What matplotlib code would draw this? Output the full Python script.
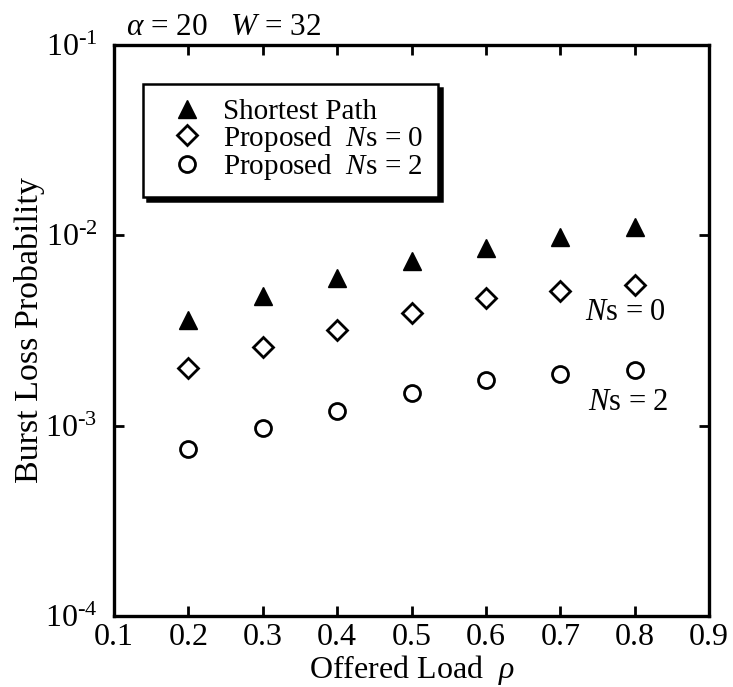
import matplotlib
matplotlib.use("Agg")
import matplotlib.pyplot as plt
from matplotlib.lines import Line2D
from matplotlib.ticker import FixedLocator, FixedFormatter, NullLocator

plt.rcParams.update({
    "font.family": "Liberation Serif",
    "mathtext.fontset": "custom",
    "mathtext.rm": "Liberation Serif",
    "mathtext.it": "Liberation Serif:italic",
    "mathtext.bf": "Liberation Serif:bold",
})

# Offered load values and burst loss probabilities
load = [0.2, 0.3, 0.4, 0.5, 0.6, 0.7, 0.8]
shortest_path = [3.6e-3, 4.8e-3, 6.0e-3, 7.3e-3, 8.6e-3, 9.8e-3, 1.10e-2]
proposed_ns0 = [2.01e-3, 2.59e-3, 3.18e-3, 3.9e-3, 4.68e-3, 5.08e-3, 5.47e-3]
proposed_ns2 = [7.5e-4, 9.7e-4, 1.19e-3, 1.48e-3, 1.74e-3, 1.87e-3, 1.96e-3]

x_ticks = [0.1, 0.2, 0.3, 0.4, 0.5, 0.6, 0.7, 0.8, 0.9]
x_tick_labels = ["0.1", "0.2", "0.3", "0.4", "0.5", "0.6", "0.7", "0.8", "0.9"]
y_ticks = [1e-4, 1e-3, 1e-2, 1e-1]
y_tick_labels = [r"$10^{\text{-4}}$", r"$10^{\text{-3}}$",
                 r"$10^{\text{-2}}$", r"$10^{\text{-1}}$"]

FS = 23
LEG_FS = 21

tri_style = dict(linestyle="none", marker="^", markersize=13,
                 markerfacecolor="black", markeredgecolor="black",
                 markeredgewidth=1.0)
dia_style = dict(linestyle="none", marker="D", markersize=10.5,
                 markerfacecolor="white", markeredgecolor="black",
                 markeredgewidth=2.0)
cir_style = dict(linestyle="none", marker="o", markersize=11.5,
                 markerfacecolor="white", markeredgecolor="black",
                 markeredgewidth=2.0)

fig = plt.figure(figsize=(7.33, 6.87), dpi=100)
ax = fig.add_axes([114 / 733, 1 - 616 / 687, (709 - 114) / 733, (616 - 45) / 687])

ax.plot(load, shortest_path, **tri_style)
ax.plot(load, proposed_ns0, **dia_style)
ax.plot(load, proposed_ns2, **cir_style)

ax.set_yscale("log")
ax.set_xlim(0.1, 0.9)
ax.set_ylim(1e-4, 1e-1)

ax.xaxis.set_major_locator(FixedLocator(x_ticks))
ax.xaxis.set_major_formatter(FixedFormatter(x_tick_labels))
ax.yaxis.set_major_locator(FixedLocator(y_ticks))
ax.yaxis.set_major_formatter(FixedFormatter(y_tick_labels))
ax.yaxis.set_minor_locator(NullLocator())
ax.xaxis.set_minor_locator(NullLocator())

ax.tick_params(which="major", direction="in", top=True, right=True,
               length=7, width=2.0, labelsize=FS, pad=5)
ax.tick_params(axis="y", pad=12)
for sp in ax.spines.values():
    sp.set_linewidth(2.4)

ax.set_xlabel(r"Offered Load  $\rho$", fontsize=FS, labelpad=1)
ax.set_ylabel("Burst Loss Probability", fontsize=24.5, labelpad=0)

fig.text(126 / 733, 1 - 35 / 687, r"$\alpha$ = 20   $W$ = 32",
         fontsize=22.5, va="baseline", ha="left")

fig.text(585 / 733, 1 - 313 / 687, r"$N$s = 0", fontsize=22,
         ha="left", va="center")
fig.text(588 / 733, 1 - 402 / 687, r"$N$s = 2", fontsize=22,
         ha="left", va="center")

handles = [Line2D([], [], **tri_style),
           Line2D([], [], **dia_style),
           Line2D([], [], **cir_style)]
labels = ["Shortest Path", r"Proposed  $N$s = 0", r"Proposed  $N$s = 2"]
leg = ax.legend(handles, labels, loc="upper left",
                bbox_to_anchor=((143 - 114) / 595, (616 - 84) / 571),
                borderaxespad=0, fontsize=LEG_FS, frameon=True, fancybox=False,
                borderpad=0.5, handlelength=2.0, handletextpad=0.25,
                labelspacing=-0.05,
                shadow={"ox": 3, "oy": -3, "facecolor": "black",
                        "edgecolor": "black", "alpha": 1})
leg.get_frame().set_edgecolor("black")
leg.get_frame().set_linewidth(1.8)
leg.get_frame().set_alpha(1)

fig.savefig("out.png", dpi=100)
